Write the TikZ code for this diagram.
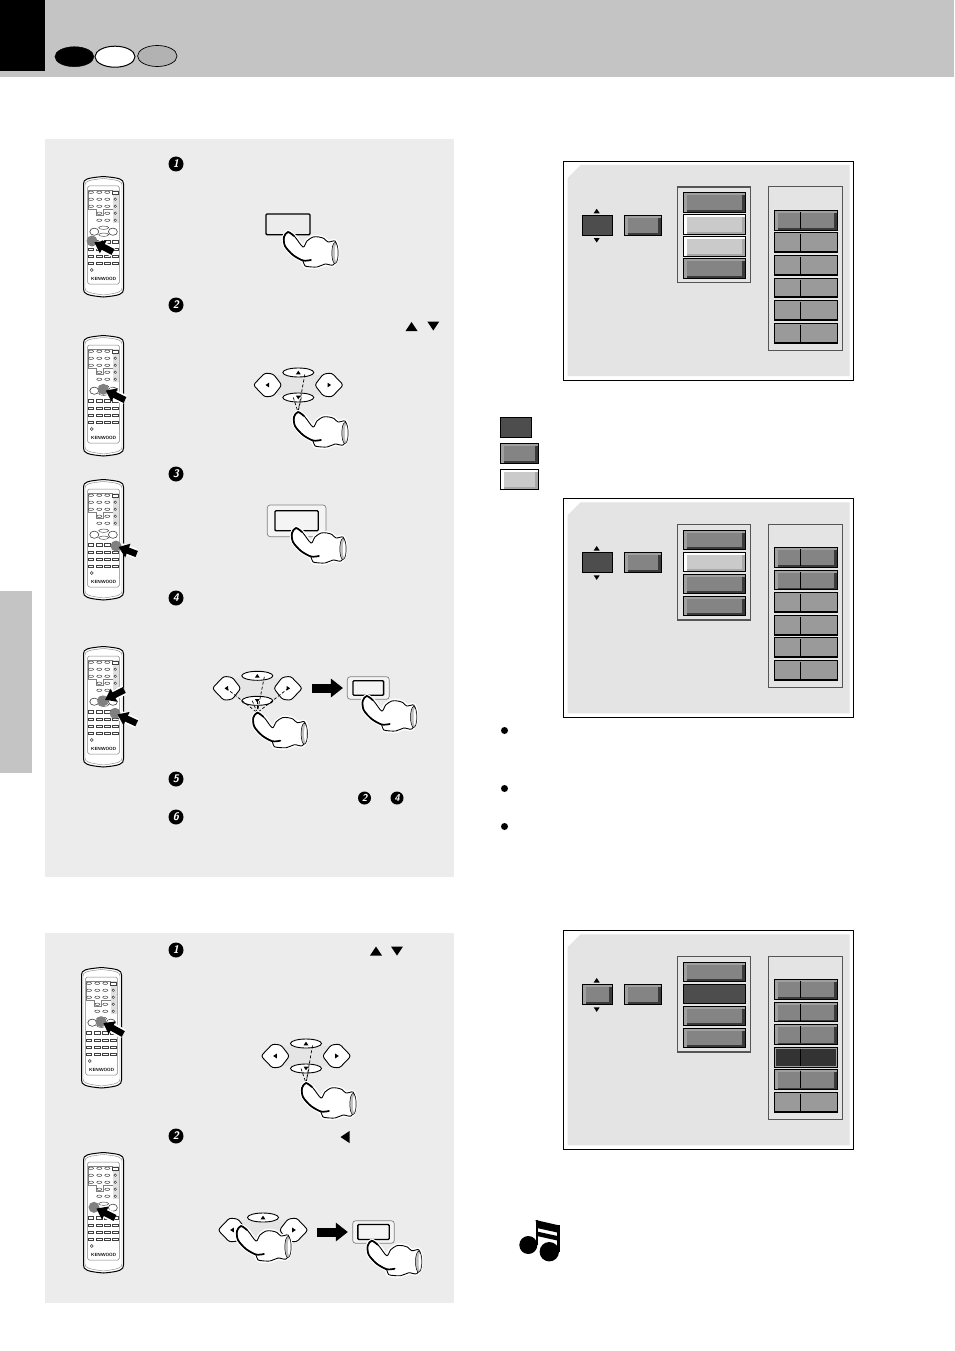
\documentclass[tikz,border=0pt]{standalone}
\usepackage{xcolor}
\usepackage{tikz}
\usetikzlibrary{arrows.meta,positioning,calc}

\definecolor{bandgray}{HTML}{C4C4C4}
\definecolor{panelgray}{HTML}{ECECEC}
\definecolor{screengray}{HTML}{E4E4E4}
\definecolor{tiledarkgray}{HTML}{4D4D4D}
\definecolor{tilemidgray}{HTML}{848484}
\definecolor{tilehigray}{HTML}{A0A0A0}
\definecolor{tileshadegray}{HTML}{3A3A3A}
\definecolor{tilelightgray}{HTML}{CACACA}
\definecolor{tilelightshade}{HTML}{A8A8A8}
\definecolor{tileflatgray}{HTML}{9A9A9A}
\definecolor{tileselgray}{HTML}{333333}
\definecolor{framegray}{HTML}{555555}

\newcommand{\tiledark}[4]{%
    \fill[black] (#1,#2) rectangle (#3,#4);
    \fill[tiledarkgray] (#1+1,#2+1) rectangle (#3-1,#4-1);
}
\newcommand{\tilemid}[4]{%
    \fill[black] (#1,#2) rectangle (#3,#4);
    \fill[tilehigray] (#1+1,#2+1) rectangle (#3-1,#4-1);
    \fill[tileshadegray] (#1+4,#2+3) rectangle (#3-1,#4-1);
    \fill[tilemidgray] (#1+4,#2+3) rectangle (#3-4,#4-2.5);
}
\newcommand{\tilelight}[4]{%
    \fill[black] (#1,#2) rectangle (#3,#4);
    \fill[white] (#1+1,#2+1) rectangle (#3-1,#4-1);
    \fill[tilelightshade] (#1+4,#2+3) rectangle (#3-1,#4-1);
    \fill[tilelightgray] (#1+4,#2+3) rectangle (#3-4,#4-3);
}
\newcommand{\tileflat}[4]{%
    \fill[black] (#1,#2) rectangle (#3,#4);
    \fill[tileflatgray] (#1+1,#2+1) rectangle (#3-1,#4-2);
}
\newcommand{\tilesel}[4]{%
    \fill[black] (#1,#2) rectangle (#3,#4);
    \fill[tilehigray] (#1+1,#2+1) rectangle (#3-1,#4-1);
    \fill[tileselgray] (#1+2.5,#2+2) rectangle (#3-2,#4-2);
}

\tikzset{
    pics/triup/.style={code={\fill (-6,4.5) -- (6,4.5) -- (0,-4.5) -- cycle;}},
    pics/tridown/.style={code={\fill (-6,-4.5) -- (6,-4.5) -- (0,4.5) -- cycle;}},
    pics/trileft/.style={code={\fill (4.5,-6) -- (4.5,6) -- (-4.5,0) -- cycle;}},
    pics/triright/.style={code={\fill (-4.5,-6) -- (-4.5,6) -- (4.5,0) -- cycle;}},
    pics/hand/.style={code={
        \draw[white, line width=4pt, line join=round] plot[smooth cycle, tension=.5] coordinates {(0,0) (-4,5) (-3,14) (5,23) (15,29) (17,34) (29,35) (37,32) (45,33) (49,25) (49,15) (47,9) (40,10) (36,6.5) (31,5) (25,5) (19,9) (15,15) (7,5)};
        \draw[fill=white, line width=.9pt] plot[smooth cycle, tension=.5] coordinates {(0,0) (-4,5) (-3,14) (5,23) (15,29) (17,34) (29,35) (37,32) (45,33) (49,25) (49,15) (47,9) (40,10) (36,6.5) (31,5) (25,5) (19,9) (15,15) (7,5)};
        \draw[fill=gray!50, line width=.5pt] (47,21) ellipse (3.2 and 10.5);
        \fill[white] (48,21) ellipse (1.2 and 8);
        \draw[line width=1.7pt, line cap=round] plot[smooth, tension=.5] coordinates {(6,4) (0,0) (-4,5) (-3,14) (5,23) (15,28.5) (23,28)};
    }},
    pics/dpad/.style={code={
        \fill[black!10] (-22,-10) -- (22,-10) -- (18,0) -- (22,10) -- (-22,10) -- (-18,0) -- cycle;
        \draw[fill=white, line width=.9pt, rounded corners=2.5pt] (-45,0) -- (-33.5,-12) -- (-25,-11) -- (-16.5,0) -- (-25,11) -- (-33.5,12) -- cycle;
        \draw[fill=white, line width=.9pt, rounded corners=2.5pt] (45,0) -- (33.5,-12) -- (25,-11) -- (16.5,0) -- (25,11) -- (33.5,12) -- cycle;
        \draw[fill=white, line width=.9pt] (0,-12.5) ellipse (15.5 and 4.5);
        \draw[fill=white, line width=.9pt] (0,12.5) ellipse (15.5 and 4.5);
        \pic[scale=.4] at (0,-12.5) {triup};
        \pic[scale=.4] at (0,12.5) {tridown};
        \pic[scale=.4] at (-31,0) {trileft};
        \pic[scale=.4] at (31,0) {triright};
        \coordinate (-up) at (0,-12.5);
        \coordinate (-down) at (0,12.5);
        \coordinate (-left) at (-31,0);
        \coordinate (-right) at (31,0);
    }},
    pics/remote/.style={code={
        \draw[fill=white, line width=1pt] (0.5,8) .. controls (0.5,3) and (4,2) .. (20.5,0.5) .. controls (37,2) and (40.5,3) .. (40.5,8) -- (40.5,113) .. controls (40.5,118) and (37,119.5) .. (20.5,121) .. controls (4,119.5) and (0.5,118) .. (0.5,113) -- cycle;
        \draw[gray, line width=.4pt] (2,9) .. controls (2,5) and (6,4) .. (20.5,2.5) .. controls (35,4) and (39,5) .. (39,9) -- (39,112) .. controls (39,116) and (35,117) .. (20.5,119) .. controls (6,117) and (2,116) .. (2,112) -- cycle;
        \draw[gray, line width=.5pt, rounded corners=1.5pt] (4.7,10) rectangle (36.3,108);
        \fill[black!12] (29.7,14) rectangle (36.3,47);
        \draw[gray, line width=.5pt] (5.3,33) -- (13,33) -- (13,39.5) -- (20,39.5) -- (20,33) -- (29.7,33);
        \draw[gray, line width=.5pt] (5.3,33) -- (5.3,14) -- (29.7,14);
        \foreach \ypos in {16.3,23.3,30.3} {
            \foreach \xpos in {8,16.3,24.3} {
                \draw[black!75, line width=.45pt, fill=white] (\xpos,\ypos) ellipse (2.6 and 1.2);
            }
        }
        \foreach \xpos in {16.3,24.3} {
            \draw[black!75, line width=.45pt, fill=white] (\xpos,37.3) ellipse (2.6 and 1.2);
            \draw[black!75, line width=.45pt, fill=white] (\xpos,44.3) ellipse (2.6 and 1.2);
        }
        \draw[black!75, line width=.45pt, fill=white] (29.6,15) rectangle (35,18);
        \foreach \ypos in {23.3,30.3,37.3,44.3} {
            \draw[black!75, line width=.45pt, fill=white] (32.3,\ypos) circle (1.3);
        }
        \draw[black!75, line width=.6pt, fill=white] (11.3,55.7) ellipse (4.5 and 3.6);
        \draw[black!75, line width=.6pt, fill=white] (29.9,55.7) ellipse (4.5 and 3.6);
        \draw[black!75, line width=.45pt, fill=white] (20.7,51.7) ellipse (5 and 1.7);
        \draw[black!75, line width=.45pt, fill=white] (20.7,58.7) ellipse (5 and 1.7);
        \foreach \ypos in {65.7,73,80,87} {
            \foreach \xpos in {8,16.3,24.3,32.3} {
                \draw[black!75, line width=.45pt, fill=white] (\xpos-2.6,\ypos-1.1) rectangle (\xpos+2.6,\ypos+1.1);
            }
        }
        \draw[black!75, line width=.45pt, fill=white] (8.7,94) circle (1.5);
        \node[font=\sffamily\bfseries\fontsize{4.5}{4.5}\selectfont, inner sep=0pt] (-brand) at (20.7,102.7) {KENWOOD};
    }},
    pics/osd/.style n args={4}{code={
        \draw[fill=white, line width=1pt] (0.3,0.5) rectangle (290.3,219.2);
        \fill[screengray] (4,17) -- (17,4) -- (286,4) -- (286,215) -- (4,215) -- cycle;
        \csname tile#1\endcsname{18}{54}{49}{74.5}
        \pic[scale=.5] at (33.2,50) {triup};
        \pic[scale=.5] at (33.2,79.3) {tridown};
        \csname tile#2\endcsname{60}{54}{98}{74.5}
        \draw[framegray, line width=1.5pt] (114,26) rectangle (187,121.5);
        \foreach \kind [count=\i from 0] in {#3} {
            \pgfmathsetmacro{\ytop}{31.3+22*\i}
            \csname tile\kind\endcsname{119}{\ytop}{182}{\ytop+20.3}
        }
        \draw[framegray, line width=1pt] (205,26) rectangle (279,189.5);
        \foreach \kind [count=\i from 0] in {#4} {
            \pgfmathsetmacro{\ytop}{48.7+22.6*\i}
            \csname tile\kind\endcsname{210}{\ytop}{274}{\ytop+20.8}
            \draw[black, line width=.8pt] (237,\ytop+2) -- (237,\ytop+19);
        }
    }}
}

\begin{document}
\begin{tikzpicture}[
        x=1pt, y=-1pt,
        stepmark/.style={circle, fill=black, minimum size=15pt, inner sep=0pt, text=white, font=\sffamily\bfseries\itshape\fontsize{11}{11}\selectfont},
        smallmark/.style={stepmark, minimum size=13pt, font=\sffamily\bfseries\itshape\fontsize{10}{10}\selectfont},
        pressdot/.style={circle, fill=gray, minimum size=11pt, inner sep=0pt},
        pressarrow/.style={line width=6.5pt, -{Triangle[width=14pt, length=10pt]}, shorten >=-3pt},
        pressback/.style={line width=10pt, white, shorten >=0pt},
        goarrow/.style={line width=9pt, -{Triangle[width=18pt, length=12pt]}},
        keybox/.style={draw, rounded corners=1pt, line width=1.3pt, inner sep=0pt},
        keyframe/.style={draw=gray, fill=panelgray!60!white, rounded corners=3pt, line width=.7pt, inner sep=0pt},
        dashline/.style={densely dashed, line width=.7pt},
        dotmark/.style={circle, fill=black, minimum size=7pt, inner sep=0pt}
    ]
    \useasboundingbox (0,0) rectangle (954,1351);

    \fill[white] (0,0) rectangle (954,1351);
    \fill[bandgray] (0,0) rectangle (954,77);
    \fill[black] (0,0) rectangle (45,71);
    \draw[fill=black] (74.4,56.7) ellipse (19.5 and 10);
    \draw[fill=white, line width=1pt] (115,56.7) ellipse (20 and 10.5);
    \draw[fill=black!30, line width=.7pt] (157.3,56) ellipse (19.7 and 10.5);
    \fill[bandgray] (0,591) rectangle (32,773);
    \fill[panelgray] (45,139) rectangle (454,877);
    \fill[panelgray] (45,933) rectangle (454,1303);

    \node[stepmark] (stepA) at (176,164) {1};
    \node[stepmark] (stepB) at (176,305) {2};
    \node[stepmark] (stepC) at (176,474) {3};
    \node[stepmark] (stepD) at (176,598) {4};
    \node[stepmark] (stepE) at (176,779) {5};
    \node[stepmark] (stepF) at (176,817) {6};
    \node[stepmark] (stepG) at (176,950) {1};
    \node[stepmark] (stepH) at (176,1136) {2};
    \node[smallmark] (backB) at (364.5,798) {2};
    \node[smallmark] (backD) at (397,798) {4};

    \pic at (411.5,326.5) {triup};
    \pic at (433.3,326) {tridown};
    \pic at (376,951) {triup};
    \pic at (397,951) {tridown};
    \pic at (345,1137) {trileft};

    \pic at (83,176) {remote};
    \pic at (83,335) {remote};
    \pic at (83,479) {remote};
    \pic at (83,646) {remote};
    \pic at (81,967) {remote};
    \pic at (83,1152) {remote};

    \node[pressdot] (dotA) at (92,241) {};
    \node[pressdot] (dotB) at (103.3,389.3) {};
    \node[pressdot] (dotC) at (116,546) {};
    \node[pressdot] (dotD) at (102.7,701) {};
    \node[pressdot] (dotE) at (115,713.3) {};
    \node[pressdot] (dotF) at (101,1021.7) {};
    \node[pressdot] (dotG) at (94,1207.3) {};
    \coordinate (tailA) at (113,252);
    \coordinate (tailB) at (125,400);
    \coordinate (tailC) at (136.7,554);
    \coordinate (tailD) at (124.3,690);
    \coordinate (tailE) at (136.7,723.3);
    \coordinate (tailF) at (123.3,1034);
    \coordinate (tailG) at (115,1218);
    \foreach \press in {A,...,G} {
        \draw[pressback] (tail\press) -- (dot\press);
        \draw[pressarrow] (tail\press) -- (dot\press);
    }

    \node[keybox, minimum width=44pt, minimum height=20.7pt] (keyA) at (288,224.3) {};
    \pic at (288,232) {hand};

    \pic (padB) at (298.3,385) {dpad};
    \coordinate (tipB) at (298,412);
    \draw[dashline] ($(padB-up)+(6.5,2)$) -- (tipB);
    \draw[dashline] ($(padB-down)+(-5,0)$) -- (tipB);
    \draw[dashline] ($(padB-down)+(3,0)$) -- (tipB);
    \pic at (tipB) {hand};

    \node[keyframe, minimum width=58.7pt, minimum height=31.7pt] (frameC) at (296.6,520.8) {};
    \node[keybox, minimum width=43.3pt, minimum height=20pt] (keyC) at (frameC) {};
    \pic at (296,528) {hand};

    \pic (padD) at (257.3,688.3) {dpad};
    \coordinate (tipD) at (257.3,712.7);
    \draw[dashline] (padD-left) -- (tipD);
    \draw[dashline] (padD-right) -- (tipD);
    \draw[dashline] ($(padD-up)+(7,1)$) -- (tipD);
    \draw[dashline] ($(padD-down)+(-5,0)$) -- (tipD);
    \draw[dashline] (padD-down) -- (tipD);
    \pic at (tipD) {hand};
    \coordinate (goD) at (312,688);
    \node[keyframe, minimum width=42pt, minimum height=22.6pt] (frameD) at (368.3,688) {};
    \node[keybox, minimum width=30.6pt, minimum height=14.6pt] (keyD) at (frameD) {};
    \draw[goarrow, shorten >=4pt] (goD) -- (frameD.west);
    \pic at (366.7,696) {hand};

    \pic (padF) at (306,1056) {dpad};
    \coordinate (tipF) at (306,1083);
    \draw[dashline] ($(padF-up)+(6.5,2)$) -- (tipF);
    \draw[dashline] ($(padF-down)+(-5,0)$) -- (tipF);
    \draw[dashline] ($(padF-down)+(3,0)$) -- (tipF);
    \pic at (tipF) {hand};

    \pic (padG) at (263,1230) {dpad};
    \pic at (241,1226) {hand};
    \coordinate (goG) at (317,1232);
    \node[keyframe, minimum width=41.6pt, minimum height=22.6pt] (frameG) at (373.5,1232) {};
    \node[keybox, minimum width=31.3pt, minimum height=15pt] (keyG) at (frameG) {};
    \draw[goarrow, shorten >=4.5pt] (goG) -- (frameG.west);
    \pic at (371.7,1240.7) {hand};

    \pic at (563.5,161) {osd={dark}{mid}{mid,light,light,mid}{mid,flat,flat,flat,flat,flat}};
    \tiledark{500}{417.3}{531.7}{437.7}
    \tilemid{500}{443.3}{539}{463.7}
    \tilelight{500}{469.3}{539}{489.7}
    \pic at (563.5,498.3) {osd={dark}{mid}{mid,light,mid,mid}{mid,mid,flat,flat,flat,flat}};
    \pic at (563.5,930.3) {osd={mid}{mid}{mid,dark,mid,mid}{mid,mid,mid,sel,mid,flat}};

    \node[dotmark] (dotX) at (504.5,730.5) {};
    \node[dotmark] (dotY) at (504.5,788.5) {};
    \node[dotmark] (dotZ) at (504.5,826.5) {};

    \fill (528.3,1245) circle (9);
    \fill (549.3,1251.7) circle (9.7);
    \fill (535.6,1220) rectangle (537.8,1245);
    \fill (557.4,1225) rectangle (559.6,1252);
    \fill (535.6,1220) -- (559.6,1225.5) -- (559.6,1233) -- (537,1228) -- cycle;
    \fill (537,1231.5) -- (559.6,1236.5) -- (559.6,1241) -- (537,1236) -- cycle;
\end{tikzpicture}
\end{document}
